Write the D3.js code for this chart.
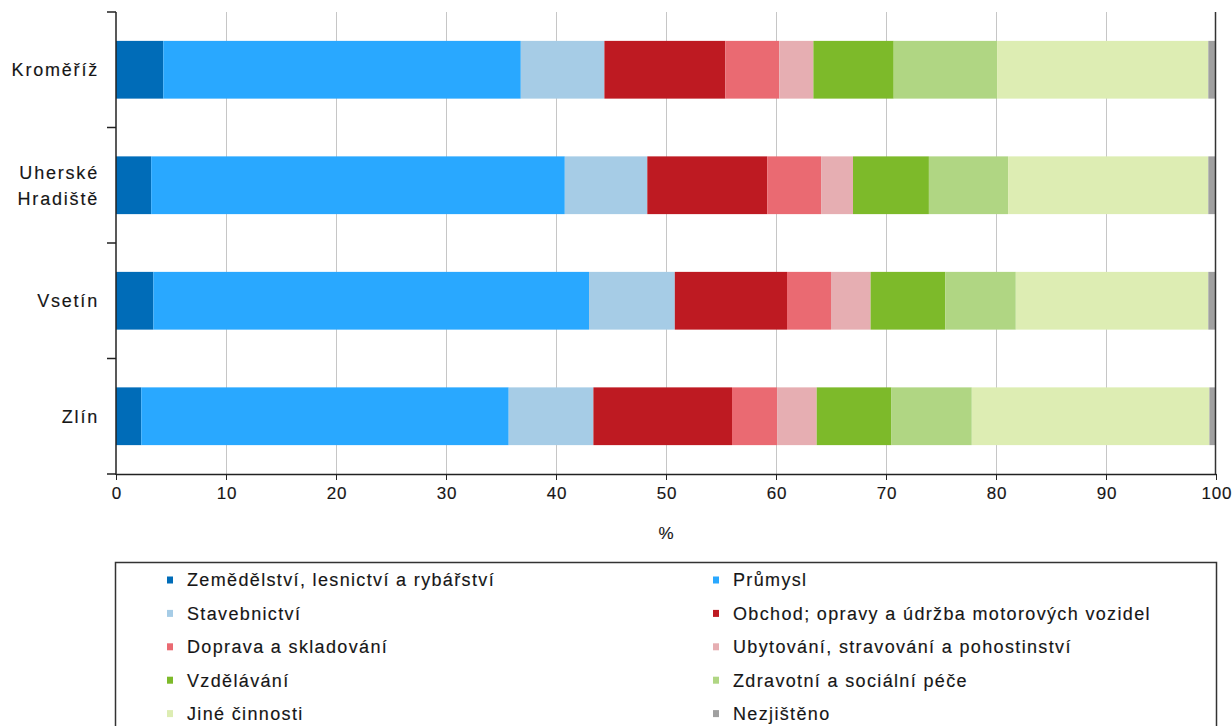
<!DOCTYPE html>
<html>
<head>
<meta charset="utf-8">
<script src="https://cdn.jsdelivr.net/npm/d3@7"></script>
<style>
  html, body { margin: 0; padding: 0; background: #fff; }
  svg { display: block; font-family: "Liberation Sans", Arial, sans-serif; }
</style>
</head>
<body>
<svg id="chart" width="1232" height="726"></svg>
<script>
// ---- data ----
const districts = ["Kroměříž", "Uherské Hradiště", "Vsetín", "Zlín"];
const districtLines = [["Kroměříž"], ["Uherské", "Hradiště"], ["Vsetín"], ["Zlín"]];
const sectors = [
  "Zemědělství, lesnictví a rybářství",
  "Průmysl",
  "Stavebnictví",
  "Obchod; opravy a údržba motorových vozidel",
  "Doprava a skladování",
  "Ubytování, stravování a pohostinství",
  "Vzdělávání",
  "Zdravotní a sociální péče",
  "Jiné činnosti",
  "Nezjištěno"
];
const sectorColors = ["#006cb8", "#29a8ff", "#a6cce6", "#be1a22", "#ea6a72",
                      "#e6aeb2", "#7dba2a", "#b0d683", "#ddedb3", "#a0a0a0"];
// share (%) of each sector, one array per district
const kromeriz        = [4.3, 32.5, 7.6, 11.0, 4.9, 3.1, 7.3, 9.4, 19.2, 0.7];
const uherskeHradiste = [3.2, 37.6, 7.5, 10.9, 4.9, 2.9, 6.9, 7.2, 18.2, 0.7];
const vsetin          = [3.4, 39.6, 7.8, 10.2, 4.0, 3.6, 6.8, 6.4, 17.5, 0.7];
const zlin            = [2.3, 33.4, 7.7, 12.6, 4.1, 3.6, 6.8, 7.3, 21.6, 0.6];
const xTicks = [0, 10, 20, 30, 40, 50, 60, 70, 80, 90, 100];
const xTitle = "%";

// ---- build table ----
const seriesValues = [kromeriz, uherskeHradiste, vsetin, zlin];
const table = districts.map((d, i) => {
  const row = { district: d };
  sectors.forEach((s, j) => row[s] = seriesValues[i][j]);
  return row;
});

const svg = d3.select("#chart");
const m = { left: 116, right: 1216, top: 12, bottom: 474 };
const textColor = "#161616";
const textStroke = 0.15;

const x = d3.scaleLinear().domain([0, 100]).range([m.left, m.right]);
const y = d3.scaleBand().domain(districts).range([m.top, m.bottom]).paddingInner(0.5).paddingOuter(0.25);
const color = d3.scaleOrdinal().domain(sectors).range(sectorColors);

// gridlines
svg.append("g").selectAll("line").data(xTicks.filter(t => t > 0 && t < 100)).join("line")
  .attr("x1", d => x(d) + 0.5).attr("x2", d => x(d) + 0.5)
  .attr("y1", m.top).attr("y2", m.bottom)
  .attr("stroke", "#c6c6c6").attr("stroke-width", 1);

// bars
const stack = d3.stack().keys(sectors)(table);
svg.append("g").selectAll("g").data(stack).join("g")
  .attr("fill", d => color(d.key))
  .selectAll("rect").data(d => d).join("rect")
  .attr("x", d => x(d[0]))
  .attr("width", d => x(d[1]) - x(d[0]))
  .attr("y", d => y(d.data.district))
  .attr("height", y.bandwidth());

// right border (100 %)
svg.append("line")
  .attr("x1", x(100) - 0.5).attr("x2", x(100) - 0.5)
  .attr("y1", m.top).attr("y2", m.bottom)
  .attr("stroke", "#333").attr("stroke-width", 1.5);

// x axis
const xAxis = svg.append("g").attr("transform", `translate(0,${m.bottom})`)
  .call(d3.axisBottom(x).tickValues(xTicks).tickSize(6).tickSizeOuter(0));
xAxis.select(".domain").attr("stroke", "#222").attr("stroke-width", 1.5);
xAxis.selectAll(".tick line").attr("stroke", "#222");
xAxis.selectAll("text").attr("font-size", 17).attr("fill", textColor).attr("dy", "0.93em")
  .attr("letter-spacing", 0.8).attr("dx", 0.4)
  .attr("stroke", textColor).attr("stroke-width", textStroke)
  .attr("font-family", "'Liberation Sans', Arial, sans-serif");

svg.append("text").attr("x", x(50)).attr("y", 539).attr("text-anchor", "middle")
  .attr("font-size", 17).attr("fill", textColor)
  .attr("stroke", textColor).attr("stroke-width", textStroke).text(xTitle);

// y axis (category boundaries as ticks)
const yAxisG = svg.append("g");
yAxisG.append("line").attr("x1", m.left).attr("x2", m.left)
  .attr("y1", m.top).attr("y2", m.bottom + 1).attr("stroke", "#222").attr("stroke-width", 1.5);
const bounds = d3.range(districts.length + 1).map(i => m.top + i * (m.bottom - m.top) / districts.length);
yAxisG.selectAll(".bt").data(bounds).join("line").attr("class", "bt")
  .attr("x1", m.left - 9).attr("x2", m.left)
  .attr("y1", d => d).attr("y2", d => d)
  .attr("stroke", "#222").attr("stroke-width", 1.5);

// category labels
const labelX = 99;
const labels = svg.append("g").selectAll("text").data(districts).join("text")
  .attr("x", labelX)
  .attr("y", d => y(d) + y.bandwidth() / 2)
  .attr("text-anchor", "end")
  .attr("font-size", 18).attr("letter-spacing", 1.8).attr("fill", textColor)
  .attr("stroke", textColor).attr("stroke-width", textStroke);
labels.each(function(d, i) {
  const lines = districtLines[i];
  const t = d3.select(this);
  lines.forEach((ln, k) => {
    t.append("tspan").attr("x", labelX)
      .attr("dy", k === 0 ? `${0.35 - (lines.length - 1) * 0.72}em` : "1.44em")
      .text(ln);
  });
});

// legend
const lg = svg.append("g");
lg.append("rect").attr("x", 115.5).attr("y", 562.5).attr("width", 1101).attr("height", 200)
  .attr("fill", "#fff").attr("stroke", "#333").attr("stroke-width", 1.5);
const colX = [167, 713];
const rowY0 = 580, rowStep = 33.4;
const items = lg.selectAll("g.item").data(sectors).join("g").attr("class", "item")
  .attr("transform", (d, i) => `translate(${colX[i % 2]},${rowY0 + Math.floor(i / 2) * rowStep})`);
items.append("rect").attr("x", 0).attr("y", -3.5).attr("width", 6).attr("height", 7)
  .attr("fill", d => color(d));
items.append("text").attr("x", 20).attr("y", 0).attr("dy", "0.35em")
  .attr("font-size", 18).attr("letter-spacing", 1.35).attr("fill", textColor)
  .attr("stroke", textColor).attr("stroke-width", textStroke).text(d => d);
</script>
</body>
</html>
